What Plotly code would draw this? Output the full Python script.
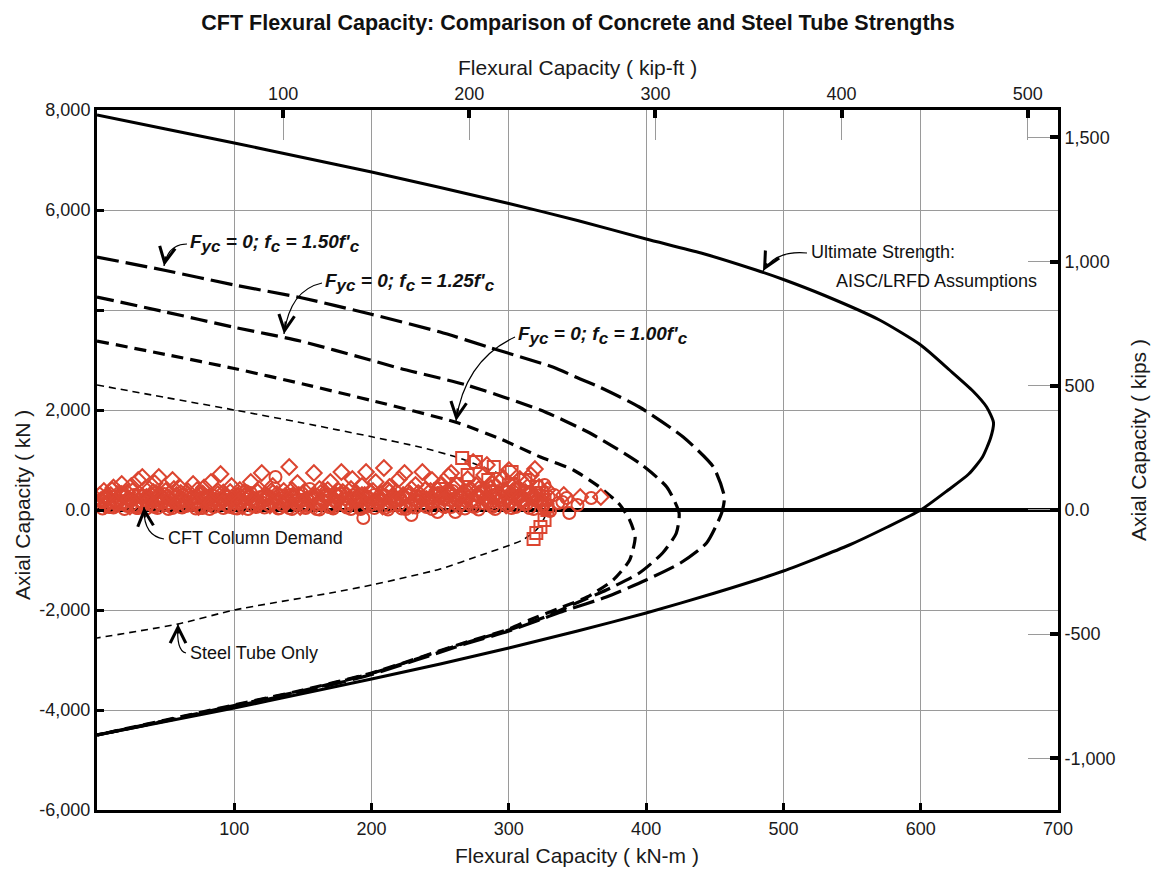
import plotly.graph_objects as go

# ---------------- data ----------------
# Ultimate strength interaction curve (kN-m, kN)
ult_m = [0, 50, 100, 150, 200, 250, 300, 350, 400, 440, 480, 500, 530, 570, 600, 621, 638, 648, 653, 651, 645,
         635, 620, 600, 575, 548, 500, 450, 400, 350, 300, 250, 200, 150, 100, 50, 0]
ult_p = [7900, 7620, 7340, 7050, 6760, 6450, 6130, 5790, 5420, 5140, 4800, 4610, 4290, 3800, 3300, 2800, 2380, 2060,
         1750, 1450, 1060, 720, 400, 0, -350, -700, -1220, -1660, -2060, -2420, -2760, -3080, -3380, -3670, -3960,
         -4230, -4500]

# Fyc = 0; fc = 1.50 f'c
fc150_m = [0, 50, 100, 148, 199, 250, 286, 332, 352, 366, 395, 427, 449, 457, 455, 444, 425, 400, 371, 340, 328,
           300, 267, 200, 150, 100, 50, 0]
fc150_p = [5060, 4790, 4500, 4250, 3920, 3560, 3250, 2860, 2620, 2460, 2060, 1460, 860, 260, -60, -660, -1060, -1400,
           -1740, -2020, -2140, -2420, -2690, -3290, -3630, -3930, -4220, -4500]

# Fyc = 0; fc = 1.25 f'c
fc125_m = [0, 50, 99, 148, 199, 221, 269, 323, 359, 395, 415, 424, 422, 412, 395, 371, 350, 328, 300, 267, 200,
           150, 100, 50, 0]
fc125_p = [4260, 3960, 3660, 3380, 3000, 2830, 2500, 2000, 1540, 940, 460, -60, -460, -860, -1260, -1600, -1850,
           -2120, -2400, -2670, -3270, -3610, -3910, -4210, -4500]

# Fyc = 0; fc = 1.00 f'c
fc100_m = [0, 50, 100, 150, 200, 262, 294, 323, 347, 366, 381, 388, 392, 388, 376, 357, 339, 315, 300, 267, 200,
           150, 100, 50, 0]
fc100_p = [3380, 3110, 2830, 2520, 2190, 1750, 1420, 1060, 800, 460, 100, -200, -540, -1000, -1400, -1740, -1940,
           -2200, -2380, -2660, -3260, -3600, -3900, -4200, -4500]

# Steel tube only
tube_m = [0, 50, 100, 150, 201, 235, 264, 290, 310, 322, 327, 326, 320, 310, 301, 280, 250, 200, 170, 100, 59, 0]
tube_p = [2500, 2250, 2000, 1740, 1460, 1260, 1040, 760, 520, 280, 0, -150, -400, -600, -700, -900, -1180, -1500,
          -1660, -2000, -2280, -2560]

# CFT column demand (diamonds, circles, squares)
dia_m = [3, 5, 8, 10, 12, 15, 18, 20, 22, 25, 28, 30, 33, 35, 38, 40, 42, 45, 48, 50, 52, 55, 58, 60,
         63, 66, 70, 72, 75, 78, 80, 83, 86, 90, 92, 95, 98, 100, 104, 108, 112, 115, 118, 120,
         124, 128, 132, 136, 140, 143, 146, 150, 154, 158, 162, 166, 170, 173, 176, 178, 182, 186, 190, 193, 196, 199,
         203, 206, 209, 212, 216, 220, 224, 228, 232, 237, 240, 244, 248, 252, 256, 258, 262, 266, 270, 274, 278,
         282, 284, 288, 292, 296, 300, 304, 308, 312, 316, 319, 322, 328, 340, 352, 367,
         6, 14, 24, 34, 44, 54, 64, 74, 84, 94, 106, 116, 126, 138, 148, 160, 172, 184, 196, 208, 218, 230, 242,
         254, 264, 276, 286, 298, 310,
         2, 7, 11, 16, 21, 26, 31, 36, 41, 46, 51, 56, 61, 67, 73, 77, 82, 88, 93, 97, 102, 107, 111, 117, 122,
         127, 131, 137, 142, 147, 152, 157, 163, 168, 174, 179, 185, 189, 195, 201, 207, 213, 218, 223, 229, 234,
         239, 245, 250, 255, 260, 265, 271, 276, 281, 287, 293, 297, 303, 307, 313, 318, 300, 290,
         3, 8, 13, 18, 23, 28, 33, 38, 43, 48, 53, 58, 63, 68, 73, 78, 83, 88, 93, 98, 103, 108, 113, 118, 123,
         128, 133, 138, 143, 148, 153, 158, 163, 168, 173, 178, 183, 188, 193, 198, 203, 208, 213, 218, 223, 228,
         233, 238, 243, 248, 253, 258, 263, 268, 273, 278, 283, 288, 293, 298, 303, 308, 313, 318, 323]
dia_p = [200, 380, 120, 300, 450, 220, 520, 150, 350, 480, 260, 600, 660, 180, 420, 300, 540, 660, 240, 380, 150,
         600, 300, 460, 200, 380, 520, 140, 300, 450, 250, 560, 180, 720, 350, 260, 480, 160, 400, 300, 560, 200,
         420, 740, 280, 480, 180, 380, 860, 250, 540, 320, 200, 740, 420, 280, 560, 180, 380, 760, 300, 620, 240,
         480, 760, 360, 560, 200, 840, 400, 280, 620, 740, 320, 500, 760, 220, 600, 400, 300, 680, 740, 500, 340,
         620, 960, 420, 700, 900, 520, 340, 640, 800, 500, 620, 360, 700, 820, 460, 400, 300, 260, 260,
         90, 140, 70, 110, 160, 80, 120, 60, 150, 100, 70, 130, 90, 140, 60, 120, 80, 150, 110, 70, 130, 90, 160,
         100, 70, 180, 120, 90, 160,
         300, 260, 400, 340, 280, 380, 320, 260, 360, 300, 260, 420, 340, 280, 400, 330, 270, 380, 300, 360, 280,
         340, 260, 360, 300, 380, 320, 280, 400, 300, 360, 280, 340, 400, 300, 360, 420, 340, 300, 380, 320, 460,
         360, 300, 420, 340, 400, 300, 500, 380, 440, 300, 400, 500, 340, 440, 560, 400, 300, 440, 560, 300, 240,
         200,
         180, 260, 140, 320, 220, 100, 280, 200, 340, 160, 240, 120, 300, 220, 180, 260, 140, 320, 200, 240,
         160, 300, 220, 120, 260, 340, 180, 240, 300, 160, 220, 280, 140, 260, 200, 320, 180, 240, 300, 220,
         160, 280, 360, 200, 260, 320, 180, 240, 380, 300, 220, 340, 260, 200, 400, 300, 240, 360, 280, 200,
         380, 260, 320, 240, 180]

cir_m = [2, 6, 10, 14, 18, 22, 26, 30, 34, 38, 42, 46, 50, 55, 60, 65, 70, 75, 80, 85, 90, 95, 100, 105, 108,
         112, 116, 120, 125, 130, 135, 140, 145, 150, 155, 160, 165, 170, 175, 180, 185, 190, 194, 198, 205, 210,
         215, 220, 225, 229, 235, 240, 248, 252, 256, 261, 265, 270, 275, 280, 285, 290, 295, 300, 305, 310, 315,
         320, 325, 330, 336, 342, 344, 350, 360,
         4, 12, 20, 28, 36, 44, 52, 62, 72, 82, 92, 102, 110, 122, 132, 142, 152, 162, 172, 182, 192, 202, 212,
         222, 232, 244, 258, 268, 278, 288, 302, 318,
         3, 9, 13, 17, 23, 27, 32, 37, 43, 47, 53, 57, 62, 68, 74, 79, 84, 89, 94, 99, 103, 109, 114, 119, 123,
         128, 133, 139, 144, 149, 153, 159, 164, 169, 174, 181, 187, 192, 197, 202, 208, 214, 219, 226, 231, 236,
         242, 247, 253, 259, 263, 268, 273, 279, 283, 289, 294, 299, 306, 311, 316, 321, 326, 333, 339,
         1, 5, 9, 13, 17, 21, 25, 29, 33, 37, 41, 45, 49, 53, 57, 61, 65, 69, 73, 77, 81, 85, 89, 93, 97, 101,
         105, 109, 113, 117, 121, 125, 129, 133, 137, 141, 145, 149, 153, 157, 161, 165, 169, 173, 177, 181, 185,
         189, 193, 197, 201, 205, 209, 213, 217, 221, 225, 229, 233, 237, 241, 245, 249, 253, 257, 261, 265, 269,
         273, 277, 281, 285, 289, 293, 297, 301, 305, 309, 313, 317, 321, 325, 329]
cir_p = [100, 250, 60, 180, 320, 80, 200, 40, 280, 120, 60, 220, 100, 40, 180, 80, 260, 40, 140, 60, 220, 100, 40,
         180, 380, 340, 60, 150, 280, 660, 100, 40, 200, 80, 420, 20, 160, 60, 300, 100, 20, 200, -160, 80, 140,
         40, 260, 100, 20, -100, 180, 60, -40, 220, 320, -40, 120, 260, 60, 380, 160, 20, 280, 100, 420, 200, 40,
         300, 120, -20, 140, 240, -60, 100, 240,
         30, 50, 20, 60, 30, 40, 20, 50, 30, 20, 40, 30, 20, 50, 30, 20, 40, 10, 30, 50, 20, 40, 10,
         30, 50, 20, 60, 30, 10, 60, 40, 20,
         200, 160, 260, 120, 220, 300, 160, 240, 180, 280, 200, 140, 300, 220, 160, 240, 200, 140, 260, 200, 300,
         220, 160, 260, 200, 140, 300, 200, 260, 180, 240, 300, 200, 260, 160, 220, 300, 180, 240, 300, 200, 160,
         240, 300, 200, 260, 180, 320, 240, 380, 200, 320, 180, 260, 420, 300, 200, 360, 280, 120, 360, 220, 500,
         300, 160,
         120, 240, 60, 180, 300, 100, 220, 40, 160, 280, 80, 200, 320, 140, 260, 60, 180, 100, 240, 40,
         160, 280, 120, 200, 60, 240, 140, 300, 80, 180, 260, 100, 220, 40, 160, 300, 120, 200, 80, 240,
         140, 280, 60, 180, 320, 100, 220, 160, 40, 260, 120, 200, 300, 80, 180, 240, 60, 140, 280, 100,
         220, 160, 340, 60, 200, 120, 260, 180, 80, 300, 140, 240, 100, 200, 360, 160, 60, 280, 120, 220,
         180, 80, 260]

sq_m = [266, 276, 289, 302, 312, 320, 324, 326, 328, 328, 326, 323, 320, 318, 270, 285, 300, 250, 262]
sq_p = [1040, 960, 860, 760, 600, 460, 340, 200, 80, 0, -200, -340, -460, -580, 700, 600, 500, 420, 520]

x_ticks = [100, 200, 300, 400, 500, 600, 700]
y_ticks = [-6000, -4000, -2000, 0, 2000, 4000, 6000, 8000]
y_labels = ["-6,000", "-4,000", "-2,000", "0.0", "2,000", "", "6,000", "8,000"]
kipft_ticks = [100, 200, 300, 400, 500]
kips_ticks = [-1000, -500, 0, 500, 1000, 1500]
kips_labels = ["-1,000", "-500", "0.0", "500", "1,000", "1,500"]

KNM_PER_KIPFT = 1.35582
X_RANGE = [0, 700]
Y_RANGE = [-6000, 8000]
KIPS_RANGE = [-1208, 1610]

# ---------------- figure ----------------
FONT = "Liberation Sans, Arial, sans-serif"
RED = "#dc4530"
W, H = 1156, 869
L, R, T, B = 97, 98, 110, 59
PW, PH = W - L - R, H - T - B


def px(x, y):
    return (x - L) / PW, (H - B - y) / PH


fig = go.Figure()

line_common = dict(shape="spline", smoothing=0.6)
fig.add_trace(go.Scatter(x=tube_m, y=tube_p, mode="lines",
                         line=dict(color="black", width=1.6, dash="7px,5px", **line_common), hoverinfo="skip"))
fig.add_trace(go.Scatter(x=fc100_m, y=fc100_p, mode="lines",
                         line=dict(color="black", width=3.2, dash="12px,7px", **line_common), hoverinfo="skip"))
fig.add_trace(go.Scatter(x=fc125_m, y=fc125_p, mode="lines",
                         line=dict(color="black", width=3.2, dash="17px,7px", **line_common), hoverinfo="skip"))
fig.add_trace(go.Scatter(x=fc150_m, y=fc150_p, mode="lines",
                         line=dict(color="black", width=3.2, dash="22px,7px", **line_common), hoverinfo="skip"))
fig.add_trace(go.Scatter(x=ult_m, y=ult_p, mode="lines",
                         line=dict(color="black", width=3, **line_common), hoverinfo="skip"))

mk = dict(color=RED, size=12, line=dict(color=RED, width=2))
fig.add_trace(go.Scatter(x=cir_m, y=cir_p, mode="markers",
                         marker=dict(symbol="circle-open", **mk)))
fig.add_trace(go.Scatter(x=dia_m, y=dia_p, mode="markers",
                         marker=dict(symbol="diamond-open", **mk)))
fig.add_trace(go.Scatter(x=sq_m, y=sq_p, mode="markers",
                         marker=dict(symbol="square-open", **mk)))

# invisible traces to activate overlay axes
fig.add_trace(go.Scatter(x=[None], y=[None], xaxis="x2", yaxis="y2", showlegend=False))
fig.add_trace(go.Scatter(x=[None], y=[None], xaxis="x3", yaxis="y3", showlegend=False))

tickfont = dict(family=FONT, size=18, color="#1a1a1a")
titlefont = dict(family=FONT, size=21, color="#1a1a1a")

fig.update_layout(
    width=W, height=H,
    margin=dict(l=L, r=R, t=T, b=B, autoexpand=False),
    paper_bgcolor="white", plot_bgcolor="white",
    showlegend=False,
    title=dict(text="<b>CFT Flexural Capacity: Comparison of Concrete and Steel Tube Strengths</b>",
               x=0.5, xanchor="center", y=1 - 22 / H, yanchor="middle",
               font=dict(family=FONT, size=21.5, color="#111")),
    xaxis=dict(range=X_RANGE, tickvals=x_ticks, tickfont=tickfont, automargin=False,
               showgrid=True, gridcolor="#9a9a9a", gridwidth=1,
               showline=True, linecolor="black", linewidth=3,
               ticks="inside", ticklen=7, tickwidth=3, tickcolor="black", zeroline=False),
    yaxis=dict(range=Y_RANGE, tickvals=y_ticks, ticktext=y_labels, tickfont=tickfont, automargin=False,
               showgrid=True, gridcolor="#9a9a9a", gridwidth=1,
               showline=True, linecolor="black", linewidth=3,
               ticks="inside", ticklen=7, tickwidth=3, tickcolor="black",
               zeroline=True, zerolinecolor="black", zerolinewidth=3.5),
    xaxis2=dict(overlaying="x", side="top", range=[X_RANGE[0] / KNM_PER_KIPFT, X_RANGE[1] / KNM_PER_KIPFT],
                tickvals=kipft_ticks, tickfont=tickfont, showgrid=False, zeroline=False, automargin=False,
                showline=True, linecolor="black", linewidth=3,
                ticks="inside", ticklen=30, tickwidth=1, tickcolor="#9a9a9a"),
    yaxis2=dict(overlaying="y", side="right", anchor="x2", range=KIPS_RANGE,
                tickvals=kips_ticks, ticktext=kips_labels, tickfont=tickfont,
                showgrid=False, zeroline=False, automargin=False,
                showline=True, linecolor="black", linewidth=3,
                ticks="inside", ticklen=30, tickwidth=1, tickcolor="#9a9a9a"),
    xaxis3=dict(overlaying="x", side="top", range=[X_RANGE[0] / KNM_PER_KIPFT, X_RANGE[1] / KNM_PER_KIPFT],
                tickvals=kipft_ticks, showticklabels=False, showgrid=False, zeroline=False, automargin=False,
                ticks="inside", ticklen=8, tickwidth=3.5, tickcolor="black"),
    yaxis3=dict(overlaying="y", side="right", anchor="x3", range=KIPS_RANGE,
                tickvals=kips_ticks, showticklabels=False, showgrid=False, zeroline=False, automargin=False,
                ticks="inside", ticklen=8, tickwidth=3.5, tickcolor="black"),
)


# ------------- axis titles -------------
def ptext(text, x, y, font, angle=0, xanchor="center"):
    xp, yp = px(x, y)
    fig.add_annotation(xref="paper", yref="paper", x=xp, y=yp, text=text, showarrow=False,
                       xanchor=xanchor, yanchor="middle", textangle=angle, font=font)


ptext("Flexural Capacity ( kN-m )", 577, 855, titlefont)
ptext("Flexural Capacity ( kip-ft )", 577, 68, titlefont)
ptext("Axial Capacity ( kN )", 22, 505, titlefont, angle=-90)
ptext("Axial Capacity ( kips )", 1138, 440, titlefont, angle=-90)

# ------------- annotations -------------
lab_font = dict(family=FONT, size=19, color="#111")
txt_font = dict(family=FONT, size=18, color="#111")


def curved_arrow(p0, c, p1, tail):
    x0, y0 = px(*p0)
    cx, cy = px(*c)
    x1, y1 = px(*p1)
    fig.add_shape(type="path", xref="paper", yref="paper",
                  path=f"M {x0},{y0} Q {cx},{cy} {x1},{y1}",
                  line=dict(color="black", width=1.2))
    fig.add_annotation(xref="paper", yref="paper", x=x1, y=y1, text="", showarrow=True,
                       ax=tail[0] - p1[0], ay=tail[1] - p1[1], arrowhead=5, arrowsize=1.4,
                       arrowwidth=2.2, arrowcolor="black", standoff=0)


def sub(s):
    return f"<sub><span style='font-size:17px'>{s}</span></sub>"


def fyc(v):
    return f"<b><i>F{sub('yc')} = 0; f{sub('c')} = {v}f'{sub('c')}</i></b>"


ptext(fyc("1.50"), 188, 244, lab_font, xanchor="left")
ptext(fyc("1.25"), 323, 282, lab_font, xanchor="left")
ptext(fyc("1.00"), 516, 335, lab_font, xanchor="left")
ptext("Ultimate Strength:", 809, 252, txt_font, xanchor="left")
ptext("AISC/LRFD Assumptions", 834, 281, txt_font, xanchor="left")
ptext("CFT Column Demand", 166, 538, txt_font, xanchor="left")
ptext("Steel Tube Only", 188, 653, txt_font, xanchor="left")

curved_arrow((187, 244), (168, 244), (164, 266), (166, 255))
curved_arrow((322, 283), (290, 290), (284, 334), (286, 320))
curved_arrow((515, 337), (465, 360), (456, 421), (458, 407))
curved_arrow((807, 253), (776, 250), (763, 271), (768, 262))
curved_arrow((164, 539), (143, 536), (144, 507), (145, 519))
curved_arrow((186, 653), (176, 651), (178, 624), (178, 635))

fig.write_html("out.html", config={"displayModeBar": False},
               post_script="document.body.style.margin='0px';document.body.style.overflow='hidden';")
